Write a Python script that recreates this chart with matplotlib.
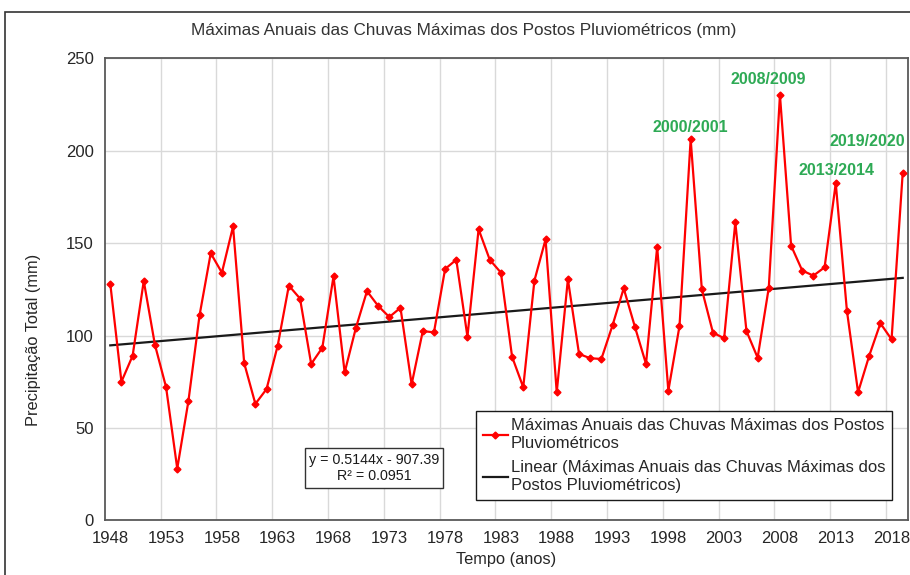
import matplotlib
matplotlib.use('Agg')
import matplotlib.pyplot as plt
from matplotlib.patches import Rectangle
import numpy as np

plt.rcParams['font.family'] = ['Liberation Sans', 'DejaVu Sans']

# anos hidrologicos (inicio) e maximas anuais (mm)
anos = list(range(1948, 2020))
chuva = [128, 75, 89, 129.5, 95, 72, 28, 64.5, 111, 144.5,
         134, 159, 85, 63, 71, 94.5, 127, 120, 84.6, 93.4,
         132, 80, 104, 124, 116, 110, 115, 73.6, 102.4, 101.7,
         136, 141, 99.4, 157.5, 141, 134, 88.5, 72, 129.7, 152,
         69.3, 130.4, 90, 87.7, 87.3, 105.5, 125.5, 104.8, 84.6, 148,
         70.1, 105.1, 206.3, 125, 101.5, 98.5, 161.2, 102.4, 88, 125.9,
         230.1, 148.6, 135.1, 132.4, 136.9, 182.4, 113.4, 69.3, 89.1, 106.6,
         97.9, 188.1]

# tendencia linear informada no grafico
a_lin = 0.5144
b_lin = -907.39
r2 = 0.0951

destaques = ['2000/2001', '2008/2009', '2013/2014', '2019/2020']
destaque_anos = [2000, 2008, 2013, 2019]
destaque_offset = [(0, 12), (-12, 16), (1, 13), (-35, 31)]

serie = 'Máximas Anuais das Chuvas Máximas dos Postos\nPluviométricos'
serie_lin = 'Linear (Máximas Anuais das Chuvas Máximas dos\nPostos Pluviométricos)'

W, H = 910, 575
fig = plt.figure(figsize=(W / 100, H / 100), dpi=100)
ax = fig.add_axes([104.7 / W, 1 - 520.3 / H, (908.3 - 104.7) / W, (520.3 - 58.3) / H])

# moldura externa do grafico
fig.patches.append(Rectangle((5 / W, -0.05), 1.2, 1 - 12 / H + 0.05, transform=fig.transFigure,
                             fill=False, edgecolor='#333333', lw=1.2))

x = np.array(anos)
ax.plot(x, chuva, color='#ff0000', lw=1.6, marker='D', markersize=3.5, label=serie, zorder=3)
xt = np.array([anos[0], anos[-1]])
ax.plot(xt, a_lin * xt + b_lin, color='#1a1a1a', lw=1.6, label=serie_lin, zorder=2)

for txt, ano, off in zip(destaques, destaque_anos, destaque_offset):
    ax.annotate(txt, (ano, chuva[anos.index(ano)]), xytext=off, textcoords='offset pixels',
                ha='center', va='center', color='#2eaa55', fontsize=11.5, fontweight='bold')

ax.set_xlim(1947.5, 2019.5)
ax.set_ylim(0, 250)
ax.set_xticks(range(1948, 2019, 5))
ax.set_xticks(np.arange(1952.5, 2019, 5), minor=True)
ax.set_yticks(range(0, 251, 50))
ax.tick_params(which='both', length=0, labelsize=12, colors='#262626', pad=8)
ax.grid(axis='y', color='#d9d9d9', lw=1)
ax.grid(axis='x', which='minor', color='#d9d9d9', lw=1)
ax.set_axisbelow(True)
for s in ax.spines.values():
    s.set_color('#595959')
    s.set_linewidth(1.3)

ax.set_xlabel('Tempo (anos)', fontsize=11.8, color='#262626', labelpad=4)
fig.text(34 / W, 1 - 340 / H, 'Precipitação Total (mm)', rotation=90, ha='center', va='center',
         fontsize=11.8, color='#262626')
fig.text(464 / W, 1 - 31 / H, 'Máximas Anuais das Chuvas Máximas dos Postos Pluviométricos (mm)',
         ha='center', va='center', fontsize=12.3, color='#333333')

leg = ax.legend(loc='upper left', bbox_to_anchor=((476 - 104.7) / 803.6, (520.3 - 411) / 462),
                borderaxespad=0, fontsize=12, fancybox=False, framealpha=1, edgecolor='#1a1a1a',
                handlelength=1.5, handletextpad=0.2, labelspacing=0.5, borderpad=0.4, numpoints=1)
leg.get_frame().set_linewidth(1.0)
for t in leg.get_texts():
    t.set_color('#262626')
    t.set_linespacing(1.3)

ax.text((374 - 104.7) / 803.6, (520.3 - 468) / 462, 'y = 0.5144x - 907.39\nR² = 0.0951',
        transform=ax.transAxes, ha='center', va='center', fontsize=10.3, color='#1a1a1a',
        linespacing=1.25, multialignment='center',
        bbox=dict(boxstyle='square,pad=0.3', fc='white', ec='#333333', lw=1.0))

fig.savefig('out.png', dpi=100)
